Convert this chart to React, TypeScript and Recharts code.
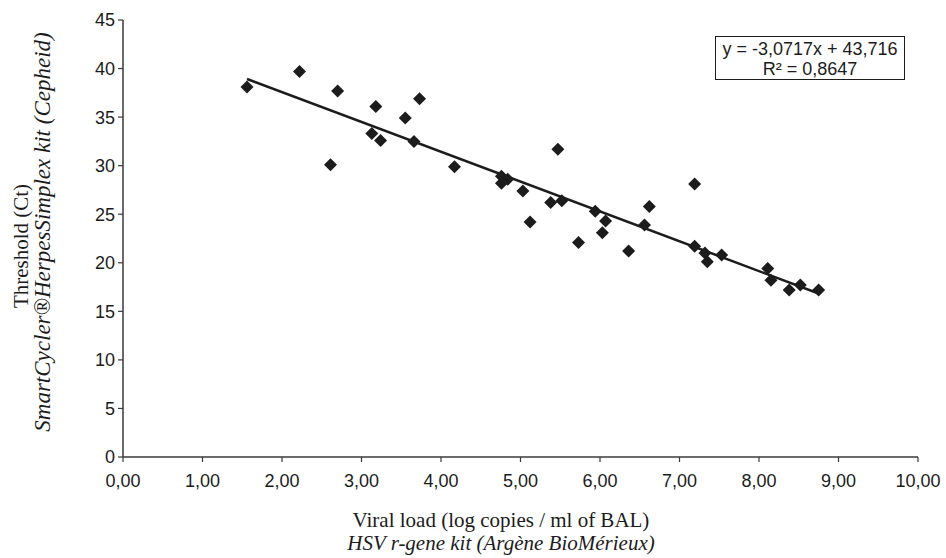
import React from "react";
import { ScatterChart, Scatter, XAxis, YAxis, ReferenceLine } from "recharts";

const viralLoad = [
  1.56, 2.22, 2.61, 2.7, 3.13, 3.18, 3.24, 3.55, 3.66, 3.73, 4.17, 4.76, 4.84, 4.76, 5.03, 5.12, 5.38, 5.47,
  5.52, 5.73, 5.94, 6.03, 6.07, 6.36, 6.56, 6.62, 7.19, 7.19, 7.32, 7.35, 7.53, 8.11, 8.15, 8.38, 8.52, 8.75,
];
const thresholdCt = [
  38.1, 39.7, 30.1, 37.7, 33.3, 36.1, 32.6, 34.9, 32.5, 36.9, 29.9, 28.9, 28.6, 28.2, 27.4, 24.2, 26.2, 31.7,
  26.4, 22.1, 25.3, 23.1, 24.3, 21.2, 23.9, 25.8, 28.1, 21.7, 21.0, 20.1, 20.8, 19.4, 18.2, 17.2, 17.7, 17.2,
];
const xTicks = [0, 1, 2, 3, 4, 5, 6, 7, 8, 9, 10];
const yTicks = [0, 5, 10, 15, 20, 25, 30, 35, 40, 45];
const trendSlope = -3.0717;
const trendIntercept = 43.716;
const legendLines = ["y = -3,0717x + 43,716", "R² = 0,8647"];
const xTitleLines = ["Viral load (log copies / ml of BAL)", "HSV r-gene kit (Argène BioMérieux)"];
const yTitleLines = ["Threshold (Ct)", "SmartCycler®HerpesSimplex kit (Cepheid)"];

const points = viralLoad.map((x, i) => ({ x, y: thresholdCt[i] }));
const xMin = Math.min(...viralLoad);
const xMax = Math.max(...viralLoad);
const trendSegment = [
  { x: xMin, y: trendSlope * xMin + trendIntercept },
  { x: xMax, y: trendSlope * xMax + trendIntercept },
];

const INK = "#1c1c1c";
const AXIS = "#3a3a3a";
const SANS = "'Liberation Sans', Arial, sans-serif";
const SERIF = "'Liberation Serif', 'Times New Roman', serif";

const Diamond = (props: any) => {
  const { cx, cy } = props;
  if (cx == null || cy == null) return null;
  const r = 6.5;
  return (
    <path
      d={`M${cx},${cy - r} L${cx + r},${cy} L${cx},${cy + r} L${cx - r},${cy} Z`}
      fill={INK}
      stroke="none"
    />
  );
};

const XTitle = () => (
  <g>
    <text x={501} y={527} textAnchor="middle" fontFamily={SERIF} fontSize={21} fill={INK}>
      {xTitleLines[0]}
    </text>
    <text x={501} y={550} textAnchor="middle" fontFamily={SERIF} fontSize={21} fontStyle="italic" fill={INK}>
      {xTitleLines[1]}
    </text>
  </g>
);

const YTitle = () => (
  <g>
    <text
      x={0}
      y={0}
      transform={`translate(28, 246) rotate(-90)`}
      textAnchor="middle"
      fontFamily={SERIF}
      fontSize={21}
      fill={INK}
    >
      {yTitleLines[0]}
    </text>
    <text
      x={0}
      y={0}
      transform={`translate(50, 232) rotate(-90)`}
      textAnchor="middle"
      fontFamily={SERIF}
      fontSize={23}
      fontStyle="italic"
      fill={INK}
    >
      {yTitleLines[1]}
    </text>
  </g>
);

const fmt = (v: number) => v.toFixed(2).replace(".", ",");

export default function App() {
  return (
    <div style={{ position: "absolute", left: 0, top: 0, width: 946, height: 558, background: "#fff" }}>
      <ScatterChart width={946} height={558} margin={{ top: 20, right: 28, bottom: 71, left: 0 }}>
        <XAxis
          type="number"
          dataKey="x"
          domain={[0, 10]}
          ticks={xTicks}
          tickFormatter={fmt}
          interval={0}
          height={30}
          tickSize={5}
          tickMargin={12}
          axisLine={{ stroke: AXIS, strokeWidth: 1.5 }}
          tickLine={{ stroke: AXIS, strokeWidth: 1.2 }}
          tick={{ fill: INK, fontFamily: SANS, fontSize: 18 }}
          label={() => <XTitle />}
        />
        <YAxis
          type="number"
          dataKey="y"
          domain={[0, 45]}
          ticks={yTicks}
          interval={0}
          width={123}
          tickSize={5}
          tickMargin={3}
          axisLine={{ stroke: AXIS, strokeWidth: 1.5 }}
          tickLine={{ stroke: AXIS, strokeWidth: 1.2 }}
          tick={{ fill: INK, fontFamily: SANS, fontSize: 18 }}
          label={() => <YTitle />}
        />
        <ReferenceLine segment={trendSegment} stroke={INK} strokeWidth={2.5} ifOverflow="visible" />
        <Scatter data={points} shape={Diamond} isAnimationActive={false} />
      </ScatterChart>
      <div
        style={{
          position: "absolute",
          left: 715,
          top: 36,
          width: 190,
          height: 44,
          border: `1.5px solid ${INK}`,
          background: "#fff",
          fontFamily: SANS,
          fontSize: 18,
          lineHeight: "20px",
          color: INK,
          textAlign: "center",
          paddingTop: 2,
          boxSizing: "border-box",
        }}
      >
        <div>{legendLines[0]}</div>
        <div>{legendLines[1]}</div>
      </div>
    </div>
  );
}
